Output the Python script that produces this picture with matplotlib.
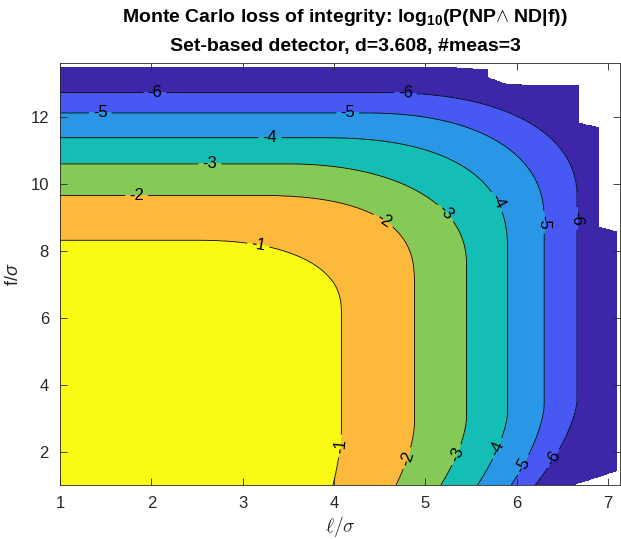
import numpy as np
import matplotlib
matplotlib.use('Agg')
import matplotlib.pyplot as plt
from matplotlib.path import Path

plt.rcParams['font.family'] = ['Liberation Sans', 'DejaVu Sans']
plt.rcParams['mathtext.fontset'] = 'custom'
plt.rcParams['mathtext.rm'] = 'Liberation Sans:bold'
plt.rcParams['mathtext.it'] = 'Liberation Sans:italic'

# contour levels, outermost last
level_vals = [-1, -2, -3, -4, -5, -6]
# f where each contour crosses l=1 (horizontal part)
top_f = [8.31, 9.65, 10.59, 11.37, 12.11, 12.71]
# l of the vertical part of each contour (mid f)
side_l = [4.08, 4.88, 5.45, 5.90, 6.30, 6.66]
# l where each contour meets f=1
bottom_l = [3.99, 4.68, 5.17, 5.57, 5.94, 6.20]
# size of the rounded corner of each contour
corner_l = [1.6, 1.8, 2.0, 2.1, 2.0, 2.16]
corner_f = [2.1, 2.6, 3.0, 3.4, 3.2, 3.2]
corner_p = [2.3, 2.6, 2.2, 2.5, 2.3, 2.3]
# f where the lean near the bottom stops
foot_f = [2.6, 2.8, 3.0, 3.2, 3.4, 3.6]

# outline of the region that has Monte Carlo data
edge_l = [1, 6.62, 7.10, 7.10, 6.90, 6.90, 6.69, 6.69, 5.89, 5.69, 5.69, 5.0, 1]
edge_f = [1, 1, 1.42, 8.56, 8.71, 11.68, 11.80, 12.92, 12.97, 13.17, 13.42, 13.5, 13.5]

region_colors = ['#3e26a8', '#4858f3', '#2a96e6', '#14beb5', '#85ca56', '#fcb93c', '#f8fa14']

# grid
l_grid = np.arange(1.0, 7.135, 0.01)
f_grid = np.arange(1.0, 13.61, 0.02)
L, F = np.meshgrid(l_grid, f_grid)

D = []
for k in range(len(level_vals)):
    u = np.clip((F - 1) / (foot_f[k] - 1), 0, 1)
    x = L + (side_l[k] - bottom_l[k]) * (1 - u) ** 1.6
    cl = side_l[k] - corner_l[k]
    cf = top_f[k] - corner_f[k]
    dx = np.maximum(x - cl, 0) / corner_l[k]
    dy = np.maximum(F - cf, 0) / corner_f[k]
    p = corner_p[k]
    D.append((dx ** p + dy ** p) ** (1 / p))
D = np.array(D)

Z = np.where(D[0] <= 1, -1 + (1 - D[0]), np.nan)
for k in range(len(level_vals) - 1):
    m = (D[k] > 1) & (D[k + 1] <= 1)
    t = (D[k] - 1) / np.maximum(D[k] - D[k + 1], 1e-9)
    Z[m] = level_vals[k] - t[m]
m = D[-1] > 1
Z[m] = level_vals[-1] - (D[-1][m] - 1)

domain = Path(np.column_stack([edge_l, edge_f]))
pts = np.column_stack([L.ravel() + 1e-6, F.ravel() + 1e-6])
inside = domain.contains_points(pts).reshape(L.shape)
Zm = np.ma.masked_where(~inside, Z)

fig = plt.figure(figsize=(6.21, 5.39), dpi=100)
ax = fig.add_axes([60 / 621, 54 / 539, 560 / 621, 422 / 539])

lv = sorted(level_vals)
ax.contourf(L, F, Zm, levels=[-20] + lv + [5], colors=region_colors)
cs = ax.contour(L, F, Zm, levels=lv, colors='k', linewidths=0.6, linestyles='solid')

label_pos = [(2.04, 12.7), (4.78, 12.69), (6.64, 8.96), (6.40, 1.8),
             (1.44, 12.1), (4.15, 12.1), (6.28, 8.85), (6.07, 1.6),
             (3.30, 11.37), (5.78, 9.45), (5.78, 2.1),
             (2.64, 10.59), (5.25, 9.20), (5.34, 1.9),
             (1.84, 9.65), (4.52, 8.81), (4.80, 1.8),
             (3.17, 8.15), (4.07, 2.16)]
ax.clabel(cs, manual=label_pos, inline=True, fmt='%d', fontsize=12, inline_spacing=4)

ax.set_xlim(1, 7.13)
ax.set_ylim(1, 13.6)
ax.set_xticks([1, 2, 3, 4, 5, 6, 7])
ax.set_yticks([2, 4, 6, 8, 10, 12])
ax.tick_params(direction='in', top=True, right=True, length=5, width=0.6,
               labelsize=12, colors='#262626', pad=8)
for s in ax.spines.values():
    s.set_color('#262626')
    s.set_linewidth(0.6)

ax.set_xlabel(r'$\ell/\sigma$', fontsize=14, color='#262626', math_fontfamily='cm', labelpad=2)
ax.set_ylabel(r'f/$\sigma$', fontsize=13, color='#262626', labelpad=6)

fig.text(345 / 621, 1 - 18 / 539, r'Monte Carlo loss of integrity: log$_{10}$(P(NP$\wedge$ ND|f))',
         ha='center', va='center', fontsize=14, fontweight='bold')
fig.text(345 / 621, 1 - 46 / 539, 'Set-based detector, d=3.608, #meas=3',
         ha='center', va='center', fontsize=14, fontweight='bold')

fig.savefig('out.png', dpi=100)
